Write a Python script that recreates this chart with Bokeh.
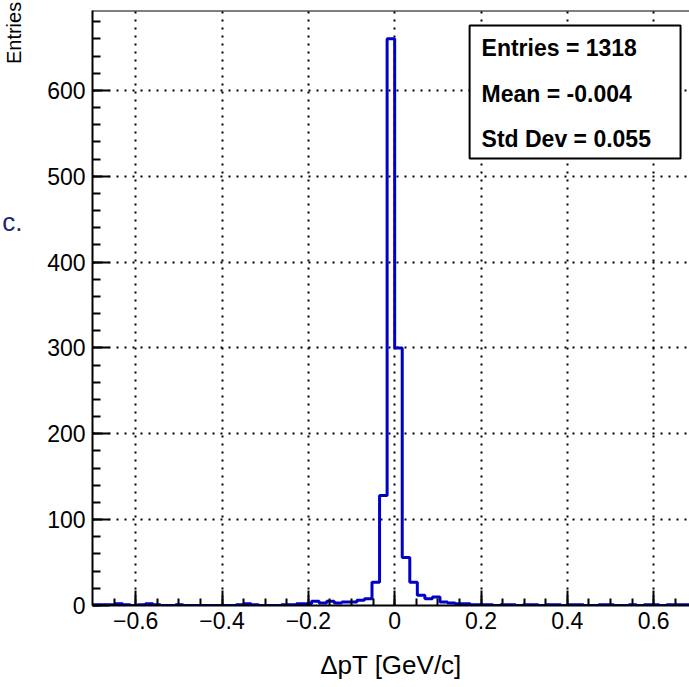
import numpy as np
from bokeh.plotting import figure
from bokeh.models import (Range1d, SingleIntervalTicker, FixedTicker, CustomJSTickFormatter,
                          BoxAnnotation, Label, Span, LinearAxis)
from bokeh.embed import file_html
from bokeh.resources import INLINE

# ---------------- data ----------------
x_low, x_high, n_bins = -0.7, 0.7, 80
counts = [1, 1, 1, 2, 1, 0, 1, 2, 1, 0,
          0, 1, 0, 0, 0, 0, 0, 0, 0, 1,
          2, 1, 0, 0, 0, 1, 1, 2, 2, 5,
          3, 5, 3, 4, 4, 6, 8, 27, 128, 660,
          300, 56, 27, 12, 8, 10, 4, 3, 2, 2,
          1, 1, 1, 0, 1, 1, 0, 1, 1, 0,
          1, 1, 0, 1, 1, 0, 0, 1, 1, 0,
          0, 1, 0, 1, 1, 0, 1, 1, 1, 1]
stats_lines = ["Entries = 1318", "Mean = -0.004", "Std Dev = 0.055"]
x_title = "\u0394pT [GeV/c]"
y_title = "Entries"
stray_text = "c."

# ---------------- layout ----------------
FONT = "Liberation Sans"
W, H = 689, 687
FL, FT, FW, FH = 89, 10, 600, 595          # frame left/top/width/height (px)
XR = (-0.7, 0.683)
YR = (0, 693)

def xd(px):
    return XR[0] + (px - FL) * (XR[1] - XR[0]) / FW

def yd(py):
    return YR[1] - (py - FT) * (YR[1] - YR[0]) / FH

p = figure(width=W, height=H, output_backend="svg", toolbar_location=None,
           x_range=Range1d(*XR), y_range=Range1d(*YR),
           min_border_left=FL, min_border_top=FT, min_border_right=0,
           min_border_bottom=H - FT - FH)
p.background_fill_color = "white"
p.border_fill_color = "white"
p.outline_line_color = None

edges = np.linspace(x_low, x_high, n_bins + 1)
step_y = list(counts) + [counts[-1]]
p.step(x=edges, y=step_y, mode="after", line_color="#0000c8", line_width=3)

# axes
xa = p.xaxis[0]
ya = p.yaxis[0]
xa.ticker = SingleIntervalTicker(interval=0.2, num_minor_ticks=4)
ya.ticker = SingleIntervalTicker(interval=100, num_minor_ticks=5)
xa.formatter = CustomJSTickFormatter(code="""
    if (Math.abs(tick) < 1e-9) return "0";
    const s = Math.abs(tick).toFixed(1);
    return tick < 0 ? "\u2212" + s : s;
""")
for ax in (xa, ya):
    ax.axis_line_width = 2
    ax.axis_line_color = "black"
    ax.major_tick_line_color = "black"
    ax.minor_tick_line_color = "black"
    ax.major_tick_line_width = 2
    ax.minor_tick_line_width = 2
    ax.major_tick_out = 0
    ax.minor_tick_out = 0
    ax.major_label_text_font = FONT
    ax.major_label_text_font_size = "23px"
    ax.major_label_text_color = "black"
xa.major_tick_in = 15
xa.minor_tick_in = 7
ya.major_tick_in = 17
ya.minor_tick_in = 8
xa.major_label_standoff = 6
ya.major_label_standoff = 7

xa.axis_label = x_title
xa.axis_label_text_font = FONT
xa.axis_label_text_font_style = "normal"
xa.axis_label_text_font_size = "26px"
xa.axis_label_text_color = "black"
xa.axis_label_standoff = 18

for g in (p.xgrid[0], p.ygrid[0]):
    g.grid_line_color = "black"
    g.grid_line_width = 2
    g.grid_line_dash = "2 6"

# outer left axis: carries the stray "c." text and the rotated "Entries" title
pad = "\u00a0" * 99
yc = LinearAxis(ticker=FixedTicker(ticks=[yd(221)], minor_ticks=[]),
                formatter=CustomJSTickFormatter(code="return %r;" % stray_text),
                axis_line_color=None, major_tick_line_color=None, minor_tick_line_color=None,
                major_tick_in=0, major_tick_out=0, minor_tick_in=0, minor_tick_out=0,
                major_label_standoff=22,
                major_label_text_font=FONT, major_label_text_font_size="26px",
                major_label_text_color="#22236e",
                axis_label=pad + y_title, axis_label_standoff=-26,
                axis_label_text_font=FONT, axis_label_text_font_style="normal",
                axis_label_text_font_size="20px", axis_label_text_color="black")
p.add_layout(yc, "left")

# top frame line
p.add_layout(Span(location=YR[1], dimension="width", line_color="black", line_width=2))

# stats box
p.add_layout(BoxAnnotation(left=xd(468), right=xd(680), top=yd(25), bottom=yd(158),
                           fill_color="white", fill_alpha=1.0,
                           line_color="black", line_alpha=1.0, line_width=2))
for txt, py in zip(stats_lines, [47, 93, 138]):
    p.add_layout(Label(x=xd(480), y=yd(py), text=txt, text_font=FONT,
                       text_font_style="bold", text_font_size="23px",
                       text_baseline="middle", text_align="left", text_color="black"))

open("out.html", "w").write(file_html(p, INLINE))
